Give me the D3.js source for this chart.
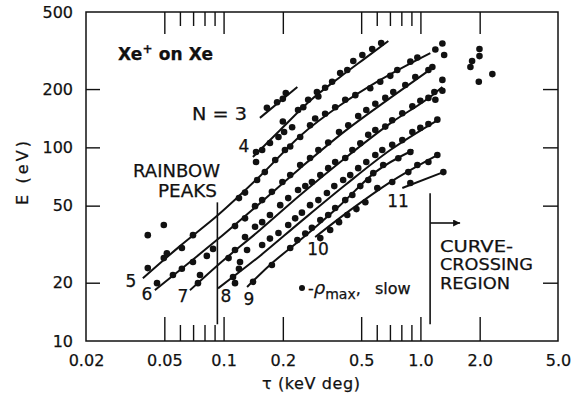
<!DOCTYPE html>
<html>
<head>
<meta charset="utf-8">
<script src="https://cdn.jsdelivr.net/npm/d3@7"></script>
<style>
  body { margin: 0; background: #fff; }
  svg text { font-family: "DejaVu Sans", sans-serif; fill: #111; stroke: #111; stroke-width: 0.25px; }
</style>
</head>
<body>
<svg id="chart" width="573" height="398"></svg>
<script>
// fitted curves, one per N  [tau (keV deg), E (eV)]
const line3 = [[0.153,142],[0.237,205]];
const line4 = [[0.141,89.2],[0.194,123],[0.275,174],[0.391,231],[0.525,289],[0.687,354]];
const line5 = [[0.0389,21.1],[0.060,30.9],[0.0937,44.7],[0.153,71.0],[0.245,114.6],[0.391,165],[0.625,223],[1.123,307]];
const line6 = [[0.0448,18.3],[0.0675,25.6],[0.0937,33.6],[0.153,51.5],[0.245,78.1],[0.415,121.6],[0.703,180],[1.150,257]];
const line7 = [[0.0675,18.3],[0.0937,24.7],[0.153,37.4],[0.245,56.7],[0.415,88.1],[0.703,133],[1.150,186],[1.293,205]];
const line8 = [[0.0937,18.7],[0.153,27.5],[0.245,41.1],[0.415,63.9],[0.703,96.9],[1.219,138]];
const line9 = [[0.1316,19.0],[0.172,24.7],[0.245,33.2],[0.391,50.3],[0.590,74.5],[0.920,96.9]];
const line10 = [[0.292,34.4],[0.440,47.4],[0.703,66.2],[1.219,91.3]];
const line11 = [[0.809,61.7],[1.308,74.5]];

// measured rainbow peaks
const dots3 = [[0.166,160],[0.187,171],[0.200,178],[0.207,191]];
const dots4 = [[0.1462,94.6],[0.1462,84.0],[0.157,96.9],[0.172,105.4],[0.190,113],[0.200,136],[0.203,120],
  [0.223,127],[0.239,156],[0.254,161],[0.269,176],[0.298,193],[0.303,183],[0.328,203],[0.356,218],
  [0.391,242],[0.425,251],[0.456,279],[0.507,300],[0.569,322],[0.632,346]];
const dots5 = [[0.0412,35.2],[0.0497,39.7],[0.0412,23.8],[0.0497,26.8],[0.0515,28.4],[0.0614,30.2],[0.0699,35.2],
  [0.1197,54.7],[0.1285,58.4],[0.148,67.8],[0.162,74.5],[0.183,86.0],[0.205,96.9],[0.218,101],[0.245,113],
  [0.275,130],[0.292,141],[0.328,149],[0.369,161],[0.415,176],[0.467,186],[0.556,202],[0.625,218],
  [0.703,234],[0.763,251],[0.889,277],[0.965,291],[1.191,320],[1.293,344],[1.32,300]];
const dots6 = [[0.0459,19.9],[0.0553,21.9],[0.0614,23.6],[0.0699,25.6],[0.0822,27.5],[0.0884,29.9],[0.1143,39.2],
  [0.1285,43.0],[0.1445,49.7],[0.157,53.4],[0.176,58.9],[0.199,66.2],[0.218,71.9],[0.245,81.0],[0.275,88.1],
  [0.303,96.9],[0.340,106],[0.386,120],[0.430,130],[0.483,145],[0.531,156],[0.590,168],[0.663,180],
  [0.728,193],[0.838,210],[0.942,231],[1.098,251],[1.150,260]];
const dots7 = [[0.0741,19.9],[0.0759,21.9],[0.106,26.8],[0.1143,29.5],[0.1285,34.4],[0.1445,38.9],[0.157,41.1],
  [0.172,44.7],[0.194,50.3],[0.213,54.7],[0.239,60.2],[0.260,63.1],[0.281,66.2],[0.310,71.9],[0.340,78.1],
  [0.369,83.9],[0.415,88.1],[0.451,96.9],[0.495,105],[0.543,116],[0.590,123],[0.663,128],[0.719,138],
  [0.809,150],[0.910,163],[0.999,174],[1.098,180],[1.177,193],[1.191,176],[1.293,223],[1.293,196]];
const dots8 = [[0.1117,21.4],[0.1143,19.9],[0.1197,23.6],[0.1212,25.6],[0.1316,29.5],[0.157,31.3],[0.172,33.8],
  [0.190,36.1],[0.213,39.7],[0.231,43.0],[0.250,46.0],[0.275,50.3],[0.303,53.4],[0.335,58.1],[0.365,63.1],
  [0.405,67.8],[0.440,71.9],[0.483,78.1],[0.531,84.0],[0.590,91.3],[0.640,96.9],[0.719,103],[0.809,109],
  [0.910,120],[0.999,126],[1.098,132],[1.219,139]];
const dots9 = [[0.1412,20.2],[0.176,24.7],[0.218,30.2],[0.237,33.2],[0.260,35.9],[0.281,38.4],[0.310,42.1],
  [0.340,44.7],[0.369,48.6],[0.415,53.4],[0.451,56.7],[0.495,63.1],[0.543,67.8],[0.576,73.6],[0.647,81.0],
  [0.772,87.9],[0.889,94.6]];
const dots10 = [[0.310,34.0],[0.348,37.4],[0.386,41.1],[0.425,44.7],[0.473,48.0],[0.525,52.1],[0.604,61.7],
  [0.719,66.2],[0.868,74.5],[0.965,81.0],[1.098,84.0],[1.219,91.3]];
const dots11 = [[0.889,65.4],[1.308,74.5]];
const crossingDots = [[1.995,322],[1.995,296],[1.83,279],[1.795,260],[1.98,218],[2.32,239]];

// axis
const xTickLabels = [0.02, 0.05, 0.1, 0.2, 0.5, 1.0, 2.0, 5.0];
const xMajorTicks = [0.05, 0.1, 0.2, 0.5, 1, 2];
const xMinorTicks = [0.06, 0.07, 0.08, 0.09, 0.6, 0.7, 0.8, 0.9];
const yTickLabels = [10, 20, 50, 100, 200, 500];
const yTicks = [20, 50, 100, 200];

const rainbowTau = 0.093;
const crossingTau = 1.12;

const svg = d3.select("#chart");
const pl = 86, pr = 558, pt = 12, pb = 341;

const x = d3.scaleLog().domain([0.02, 5]).range([pl, pr]);
const y = d3.scaleLog().domain([10, 500]).range([pb, pt]);

// frame
svg.append("rect")
  .attr("x", pl).attr("y", pt)
  .attr("width", pr - pl).attr("height", pb - pt)
  .attr("fill", "none").attr("stroke", "#111").attr("stroke-width", 1.5);

function ticks(axis, tr) {
  const g = svg.append("g").attr("transform", tr).call(axis);
  g.select(".domain").remove();
  g.selectAll("line").attr("stroke", "#111").attr("stroke-width", 1.4);
  return g;
}
ticks(d3.axisBottom(x).tickValues(xMajorTicks).tickSize(-24).tickFormat(""), `translate(0,${pb})`);
ticks(d3.axisBottom(x).tickValues(xMinorTicks).tickSize(-16).tickFormat(""), `translate(0,${pb})`);
ticks(d3.axisTop(x).tickValues(xMajorTicks).tickSize(-22).tickFormat(""), `translate(0,${pt})`);
ticks(d3.axisTop(x).tickValues(xMinorTicks).tickSize(-14).tickFormat(""), `translate(0,${pt})`);
ticks(d3.axisLeft(y).tickValues(yTicks).tickSize(-14).tickFormat(""), `translate(${pl},0)`);
ticks(d3.axisRight(y).tickValues(yTicks).tickSize(-15).tickFormat(""), `translate(${pr},0)`);

// tick labels
const xl = ticks(d3.axisBottom(x).tickValues(xTickLabels).tickSize(0).tickPadding(14)
  .tickFormat(d => d >= 1 ? d.toFixed(1) : String(d)), `translate(0,${pb})`);
xl.selectAll("text").attr("font-size", 16).attr("font-family", "DejaVu Sans").attr("fill", "#111");
const yl = ticks(d3.axisLeft(y).tickValues(yTickLabels).tickSize(0).tickPadding(13)
  .tickFormat(d3.format("d")), `translate(${pl},0)`);
yl.selectAll("text").attr("font-size", 16).attr("font-family", "DejaVu Sans").attr("fill", "#111");

// axis titles
svg.append("text").attr("x", 311).attr("y", 389).attr("text-anchor", "middle")
  .attr("font-size", 16).attr("textLength", 98).text("τ  (keV deg)");
svg.append("text").attr("transform", "translate(28,173) rotate(-90)").attr("text-anchor", "middle")
  .attr("font-size", 16).attr("textLength", 64).text("E  (eV)");

// curves
const curve = d3.line().x(d => x(d[0])).y(d => y(d[1])).curve(d3.curveMonotoneX);
[line3, line4, line5, line6, line7, line8, line9, line10, line11].forEach(l => {
  svg.append("path").attr("d", curve(l)).attr("fill", "none")
    .attr("stroke", "#111").attr("stroke-width", 2);
});

// dots
const allDots = [dots3, dots4, dots5, dots6, dots7, dots8, dots9, dots10, dots11, crossingDots];
allDots.forEach(ds => {
  svg.append("g").selectAll("circle").data(ds).enter().append("circle")
    .attr("cx", d => x(d[0])).attr("cy", d => y(d[1])).attr("r", 3.3).attr("fill", "#111");
});

// rainbow / crossing markers
svg.append("line").attr("x1", x(rainbowTau)).attr("x2", x(rainbowTau))
  .attr("y1", y(52)).attr("y2", y(12.2)).attr("stroke", "#111").attr("stroke-width", 1.6);
svg.append("line").attr("x1", x(crossingTau)).attr("x2", x(crossingTau))
  .attr("y1", y(58)).attr("y2", y(12.2)).attr("stroke", "#111").attr("stroke-width", 1.6);
svg.append("defs").append("marker").attr("id", "arr").attr("viewBox", "0 0 10 10")
  .attr("refX", 10).attr("refY", 5).attr("markerWidth", 13).attr("markerHeight", 7)
  .attr("markerUnits", "userSpaceOnUse").attr("orient", "auto")
  .append("path").attr("d", "M0,0L10,5L0,10z").attr("fill", "#111");
svg.append("line").attr("x1", x(crossingTau)).attr("x2", x(crossingTau) + 30)
  .attr("y1", 223).attr("y2", 223).attr("stroke", "#111").attr("stroke-width", 1.6)
  .attr("marker-end", "url(#arr)");

// labels
const t = (s, px, py, opts = {}) => {
  const e = svg.append("text").attr("x", px).attr("y", py).attr("font-size", opts.size || 17).text(s);
  if (opts.anchor) e.attr("text-anchor", opts.anchor);
  if (opts.len) e.attr("textLength", opts.len).attr("lengthAdjust", "spacingAndGlyphs");
  return e;
};
const title = svg.append("text").attr("x", 118).attr("y", 60).attr("font-size", 17)
  .attr("font-weight", "bold").attr("textLength", 95);
title.append("tspan").text("Xe");
title.append("tspan").attr("dy", -7).attr("font-size", 12).text("+");
title.append("tspan").attr("dy", 7).text("  on  Xe");

t("N = 3", 192, 120, {len: 55});
t("4", 244, 152, {anchor: "middle"});
t("RAINBOW", 133, 177, {len: 87});
t("PEAKS", 158, 197, {len: 59});
t("5", 131, 287, {anchor: "middle"});
t("6", 147, 300, {anchor: "middle"});
t("7", 183, 302, {anchor: "middle"});
t("8", 226, 302, {anchor: "middle"});
t("9", 249, 305, {anchor: "middle"});
t("10", 318, 255, {anchor: "middle"});
t("11", 398, 207, {anchor: "middle"});
t("CURVE-", 440, 252, {len: 73, size: 16});
t("CROSSING", 440, 270, {len: 93, size: 16});
t("REGION", 440, 289, {len: 70, size: 16});

svg.append("circle").attr("cx", 302).attr("cy", 288).attr("r", 3).attr("fill", "#111");
const lg = svg.append("text").attr("x", 308).attr("y", 294).attr("font-size", 16);
lg.append("tspan").text("-");
lg.append("tspan").attr("font-style", "italic").attr("font-size", 18).text("ρ");
lg.append("tspan").attr("dy", 5).attr("font-size", 14).text("max");
lg.append("tspan").attr("dy", -5).text(",");
lg.append("tspan").attr("x", 375).text("slow");
</script>
</body>
</html>
